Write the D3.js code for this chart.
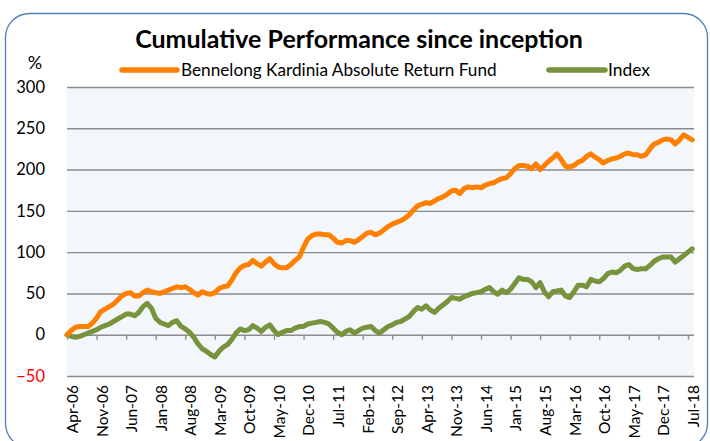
<!DOCTYPE html>
<html>
<head>
<meta charset="utf-8">
<script src="https://cdn.jsdelivr.net/npm/d3@7"></script>
<style>
  body { margin: 0; background: #fff; }
  svg { display: block; font-family: Lato, "Open Sans", sans-serif; }
</style>
</head>
<body>
<div id="chart"></div>
<script>
// months Apr-06 .. Aug-18, one value per month
var months = d3.timeMonth.range(new Date(2006, 3, 1), new Date(2018, 8, 1)).map(d3.timeFormat("%b-%y"));

var fund = [0, 5, 9, 10, 10, 10, 14, 20, 28, 31, 34, 37, 42, 47, 50, 51, 47, 47, 51, 54,
  52, 51, 50, 52, 54, 56, 58, 57, 58, 55, 51, 48, 52, 50, 49, 51, 56, 58, 59, 66,
  75, 81, 84, 85, 90, 86, 83, 88, 92, 86, 82, 81, 81, 85, 90, 94, 106, 116, 120, 122,
  122, 121, 121, 117, 112, 111, 114, 114, 112, 115, 119, 123, 124, 121, 123, 127, 131, 134, 136, 138,
  141, 145, 151, 156, 158, 160, 159, 162, 165, 167, 170, 174, 175, 171, 177, 179, 178, 179, 178, 181,
  183, 184, 187, 189, 190, 195, 201, 205, 205, 204, 201, 207, 200, 205, 210, 214, 219, 212, 204, 203,
  205, 209, 211, 216, 219, 215, 212, 208, 211, 213, 214, 216, 219, 220, 218, 218, 216, 218, 225, 231,
  233, 236, 237, 236, 231, 236, 242, 239, 236];

var index = [0, -2, -3, -2, 0, 2, 4, 6, 9, 11, 13, 16, 19, 22, 25, 25, 23, 27, 34, 38,
  32, 20, 15, 13, 11, 15, 17, 10, 7, 3, -3, -11, -17, -20, -24, -27, -20, -15, -12, -6,
  2, 7, 5, 6, 11, 8, 4, 9, 12, 5, 0, 3, 5, 5, 8, 10, 10, 13, 14, 15,
  16, 15, 13, 8, 3, 0, 4, 6, 2, 5, 8, 9, 10, 5, 2, 6, 10, 12, 15, 16,
  19, 22, 28, 33, 31, 35, 30, 27, 32, 36, 40, 45, 44, 43, 46, 48, 50, 51, 52, 55,
  57, 52, 49, 54, 51, 55, 62, 69, 67, 67, 64, 57, 63, 52, 46, 52, 53, 54, 47, 45,
  52, 60, 60, 58, 67, 65, 64, 68, 74, 76, 75, 78, 83, 85, 80, 79, 80, 80, 84, 89,
  92, 94, 94, 94, 88, 92, 96, 100, 104];

var xTickLabels = ["Apr-06", "Nov-06", "Jun-07", "Jan-08", "Aug-08", "Mar-09", "Oct-09", "May-10",
  "Dec-10", "Jul-11", "Feb-12", "Sep-12", "Apr-13", "Nov-13", "Jun-14", "Jan-15", "Aug-15",
  "Mar-16", "Oct-16", "May-17", "Dec-17", "Jul-18"];
var yTicks = [-50, 0, 50, 100, 150, 200, 250, 300];

var seriesNames = ["Bennelong Kardinia Absolute Return Fund", "Index"];
var colors = ["#ff8000", "#77933c"];

var W = 710, H = 441;
var plot = {left: 67, right: 694, top: 87, bottom: 376};

var svg = d3.select("#chart").append("svg")
    .attr("width", W)
    .attr("height", H);

// outer rounded frame
svg.append("rect")
    .attr("x", 5.5).attr("y", 13.5)
    .attr("width", 702).attr("height", 434)
    .attr("rx", 24)
    .attr("fill", "#fff")
    .attr("stroke", "#4f81bd")
    .attr("stroke-width", 1.3);

var x = d3.scalePoint().domain(months).range([plot.left, 692.2]);
var y = d3.scaleLinear().domain([-50, 300]).range([plot.bottom, plot.top]);

// plot background
svg.append("rect")
    .attr("x", plot.left).attr("y", plot.top)
    .attr("width", plot.right - plot.left)
    .attr("height", plot.bottom - plot.top)
    .attr("fill", "#f3f6fb");

// gridlines + y labels
var gy = svg.append("g")
    .attr("transform", "translate(" + plot.left + ",0)")
    .call(d3.axisLeft(y).tickValues(yTicks).tickSize(-(plot.right - plot.left)).tickPadding(22));
gy.select(".domain").remove();
gy.selectAll(".tick line").attr("stroke", "#8c8c8c").attr("stroke-width", 1.4);
gy.selectAll(".tick text")
    .attr("font-size", 16.5)
    .attr("font-family", "Lato, sans-serif")
    .attr("fill", function(d) { return d < 0 ? "#ff0000" : "#000"; });

// category axis on the zero line
var gx = svg.append("g")
    .attr("transform", "translate(0," + y(0) + ")")
    .call(d3.axisBottom(x).tickValues(xTickLabels).tickSize(5));
gx.select(".domain").remove();
gx.selectAll(".tick line").attr("stroke", "#8c8c8c").attr("stroke-width", 1.4);
gx.selectAll(".tick text")
    .attr("font-size", 15.5)
    .attr("font-family", "Lato, sans-serif")
    .attr("fill", "#000")
    .attr("text-anchor", "end")
    .attr("transform", "rotate(-90)")
    .attr("x", -(plot.bottom + 9 - y(0)))
    .attr("y", 5)
    .attr("dy", "0.35em");

// lines
var line = d3.line()
    .x(function(d, i) { return x(months[i]); })
    .y(function(d) { return y(d); });

[index, fund].forEach(function(s, k) {
  svg.append("path")
      .datum(s)
      .attr("fill", "none")
      .attr("stroke", k === 0 ? colors[1] : colors[0])
      .attr("stroke-width", 5)
      .attr("stroke-linejoin", "round")
      .attr("stroke-linecap", "round")
      .attr("d", line);
});

// fit text to a target width
function fit(sel, w) {
  var l = sel.node().getComputedTextLength();
  var fs = parseFloat(sel.attr("font-size"));
  sel.attr("font-size", fs * w / l);
}

// title
var title = svg.append("text")
    .attr("x", 359).attr("y", 48)
    .attr("text-anchor", "middle")
    .attr("font-weight", "bold")
    .attr("font-size", 22)
    .text("Cumulative Performance since inception");
fit(title, 448);

svg.append("text")
    .attr("x", 35).attr("y", 69)
    .attr("text-anchor", "middle")
    .attr("font-size", 18)
    .text("%");

// legend
var legendX = [[122, 177, 181, 316], [549, 605, 608, 42]];
seriesNames.forEach(function(name, i) {
  var lx = legendX[i];
  svg.append("line")
      .attr("x1", lx[0]).attr("x2", lx[1])
      .attr("y1", 70).attr("y2", 70)
      .attr("stroke", colors[i])
      .attr("stroke-width", 5.5)
      .attr("stroke-linecap", "round");
  var t = svg.append("text")
      .attr("x", lx[2]).attr("y", 75.5)
      .attr("font-size", 16)
      .text(name);
  fit(t, lx[3]);
});
</script>
</body>
</html>
